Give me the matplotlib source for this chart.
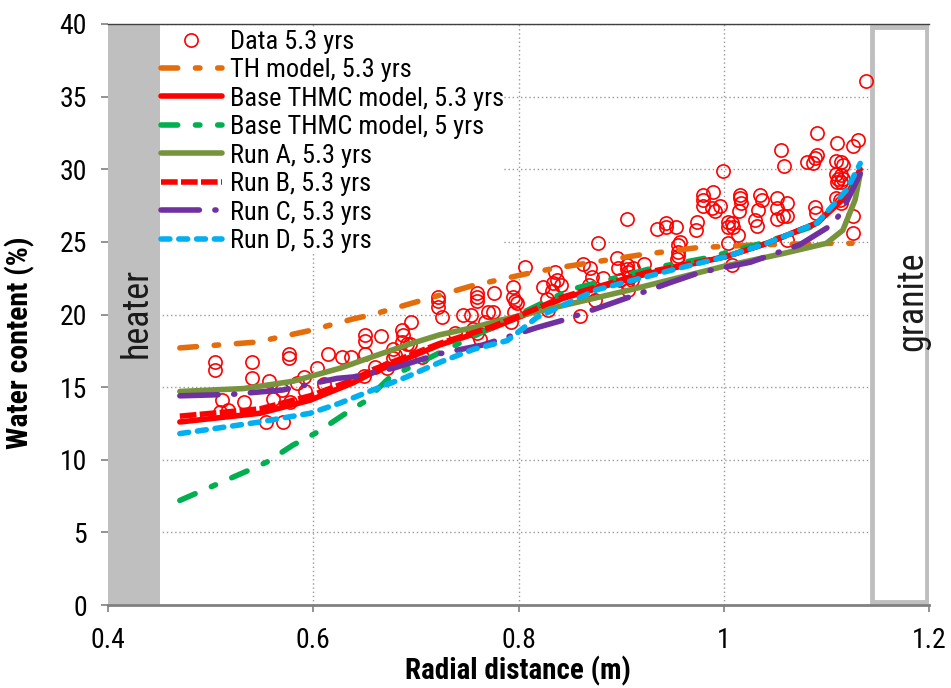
import matplotlib
matplotlib.use("Agg")
import matplotlib.pyplot as plt
from matplotlib import font_manager
from matplotlib.patches import Rectangle

names = {f.name for f in font_manager.fontManager.ttflist}
FAM = None
for cand in ['Roboto Condensed', 'Liberation Sans Narrow', 'PT Sans Narrow', 'Archivo Narrow',
             'Open Sans Condensed', 'Carlito', 'Liberation Sans']:
    if cand in names:
        FAM = cand
        break
plt.rcParams['font.family'] = [FAM, 'DejaVu Sans'] if FAM else ['DejaVu Sans']

# ---------------- data ----------------
data_x = [0.504, 0.504, 0.540, 0.540, 0.576, 0.576, 0.614, 0.628, 0.637, 0.604, 0.591, 0.584,
          0.557, 0.570, 0.592, 0.610, 0.511, 0.533, 0.561, 0.577, 0.517, 0.509, 0.554, 0.571,
          0.650, 0.650, 0.650, 0.666, 0.686, 0.687, 0.695, 0.686, 0.691, 0.694, 0.678, 0.680,
          0.678, 0.706, 0.660, 0.672, 0.649, 0.722, 0.722, 0.722, 0.725, 0.738, 0.746, 0.754,
          0.760, 0.760, 0.760, 0.770, 0.775, 0.776, 0.756, 0.760, 0.762, 0.767, 0.795, 0.795,
          0.797, 0.799, 0.796, 0.806, 0.793,
          0.836, 0.838, 0.834, 0.824, 0.841, 0.833, 0.828, 0.829, 0.863, 0.870, 0.872, 0.869,
          0.869, 0.875, 0.860, 0.877, 0.882, 0.896, 0.897, 0.906, 0.906, 0.906, 0.907, 0.909,
          0.911, 0.906, 0.907, 0.899, 0.912, 0.922, 0.935, 0.944, 0.944, 0.953, 0.974, 0.973,
          0.957, 0.955, 0.955, 0.955, 0.954, 0.980, 0.980, 0.990, 0.980, 0.989, 0.991, 0.996,
          1.004, 1.004,
          0.999, 1.016, 1.016, 1.017, 1.015, 1.008, 1.004, 1.009, 1.014, 1.008, 1.030, 1.032,
          1.033, 1.035, 1.037, 1.056, 1.059, 1.052, 1.062, 1.052, 1.058, 1.062, 1.052, 1.062,
          1.081, 1.087, 1.089, 1.091, 1.091, 1.089, 1.090, 1.110, 1.126, 1.131, 1.109, 1.114,
          1.116, 1.109, 1.114, 1.111, 1.116, 1.110, 1.114, 1.113, 1.109, 1.114, 1.126, 1.126,
          1.139]
data_y = [16.7, 16.2, 16.7, 15.6, 17.3, 17.0, 17.3, 17.1, 17.1, 16.3, 15.7, 15.3,
          15.4, 14.8, 14.7, 15.2, 14.1, 14.0, 14.2, 14.0, 13.4, 13.3, 12.6, 12.6,
          18.6, 18.2, 17.3, 18.5, 18.9, 18.6, 19.5, 18.1, 18.0, 18.0, 17.6, 17.2,
          17.0, 17.1, 16.4, 16.3, 15.8, 21.2, 20.9, 20.5, 19.8, 18.7, 20.0, 20.0,
          21.5, 21.2, 20.9, 20.2, 20.2, 21.5, 19.0, 18.7, 18.3, 19.5, 21.9, 21.2,
          20.9, 20.8, 20.2, 23.3, 19.5,
          22.9, 22.4, 22.2, 21.9, 22.0, 21.6, 21.1, 20.3, 23.5, 23.2, 22.6, 22.0,
          21.7, 21.0, 19.9, 24.9, 22.5, 23.9, 23.2, 26.6, 23.4, 23.1, 22.9, 22.6,
          22.4, 22.2, 21.7, 22.4, 23.2, 23.5, 25.9, 26.3, 26.0, 26.0, 26.4, 25.8,
          25.0, 24.8, 24.3, 24.0, 23.8, 28.2, 27.9, 28.4, 27.5, 27.3, 27.1, 27.5,
          26.4, 24.9,
          29.9, 28.2, 28.0, 27.7, 27.1, 26.3, 26.0, 26.0, 25.5, 23.4, 26.5, 26.1,
          27.2, 28.2, 27.9, 31.3, 30.2, 28.0, 27.7, 27.3, 26.8, 26.8, 26.6, 25.1,
          30.5, 30.4, 30.8, 31.0, 32.5, 27.4, 27.0, 31.8, 31.6, 32.0, 30.6, 30.5,
          30.3, 29.7, 29.6, 29.3, 29.3, 29.1, 29.1, 27.9, 28.0, 27.7, 26.8, 25.6,
          36.1]

th_x = [0.47, 0.545, 0.597, 0.639, 0.658, 0.707, 0.756, 0.814, 0.837, 0.918, 0.974, 1.035, 1.107, 1.125]
th_y = [17.7, 18.1, 18.9, 19.7, 20.0, 21.0, 22.0, 22.9, 23.2, 24.1, 24.6, 24.8, 24.9, 24.9]

base_x = [0.47, 0.548, 0.597, 0.639, 0.658, 0.723, 0.772, 0.814, 0.843, 0.925, 1.003, 1.042, 1.091, 1.12, 1.133]
base_y = [12.6, 13.2, 14.1, 15.3, 16.0, 17.9, 19.0, 20.2, 21.1, 22.8, 24.0, 24.9, 26.3, 28.2, 30.0]

base5_x = [0.47, 0.538, 0.555, 0.58, 0.604, 0.636, 0.65, 0.675, 0.73, 0.85, 0.931, 0.984, 1.042, 1.084, 1.12, 1.133]
base5_y = [7.2, 9.3, 9.85, 11.0, 11.9, 13.4, 14.0, 15.7, 17.6, 21.7, 23.2, 23.9, 25.0, 26.0, 28.1, 29.6]

runa_x = [0.47, 0.532, 0.58, 0.626, 0.658, 0.691, 0.723, 0.756, 0.782, 0.909, 0.999, 1.058, 1.1, 1.116, 1.128, 1.133]
runa_y = [14.7, 14.9, 15.4, 16.3, 17.1, 17.9, 18.6, 19.1, 19.6, 21.7, 23.3, 24.2, 24.9, 25.8, 27.9, 29.7]

runb_x = [0.47, 0.548, 0.597, 0.639, 0.658, 0.723, 0.772, 0.814, 0.843, 0.925, 1.003, 1.042, 1.091, 1.12, 1.133]
runb_y = [13.0, 13.5, 14.4, 15.5, 16.2, 18.0, 19.1, 20.3, 21.2, 22.9, 24.0, 24.9, 26.3, 28.2, 30.0]

runc_x = [0.47, 0.52, 0.57, 0.623, 0.639, 0.678, 0.723, 0.765, 0.818, 0.843, 0.892, 0.948, 0.977, 1.026, 1.074, 1.106, 1.116, 1.133]
runc_y = [14.4, 14.5, 14.8, 15.6, 15.7, 16.3, 17.3, 17.9, 19.1, 19.6, 20.8, 22.2, 22.9, 23.6, 24.8, 26.2, 27.2, 29.7]

rund_x = [0.47, 0.548, 0.597, 0.626, 0.658, 0.691, 0.723, 0.756, 0.789, 0.818, 0.876, 0.957, 1.003, 1.042, 1.091, 1.12, 1.133]
rund_y = [11.8, 12.6, 13.2, 13.9, 14.8, 15.7, 16.7, 17.6, 18.2, 19.8, 21.7, 23.2, 24.0, 24.9, 26.3, 28.6, 30.4]

xticks = [0.4, 0.6, 0.8, 1.0, 1.2]
xticklabels = ['0.4', '0.6', '0.8', '1', '1.2']
yticks = [0, 5, 10, 15, 20, 25, 30, 35, 40]

# ---------------- figure ----------------
fig = plt.figure(figsize=(9.51, 6.88), dpi=100)
ax = fig.add_axes([108/951, 83/688, 821/951, 581/688])
ax.set_xlim(0.4, 1.2)
ax.set_ylim(0, 40)

ax.grid(True, color='#999999', linestyle=(0, (1, 2)), linewidth=1.0, zorder=0)
ax.set_axisbelow(True)

ax.add_patch(Rectangle((0.4, 0), 0.0507, 40, facecolor='#BFBFBF', edgecolor='none', zorder=1))
ax.add_patch(Rectangle((1.1445, 0.2), 0.0535, 39.6, facecolor='white', edgecolor='#BFBFBF',
                       linewidth=3.5, zorder=1))
ax.text(0.428, 20.1, 'heater', rotation=90, ha='center', va='center', fontsize=26, color='#1a1a1a', zorder=2)
ax.text(1.1835, 20.9, 'granite', rotation=90, ha='center', va='center', fontsize=26, color='#1a1a1a', zorder=2)

lw = 4.0
ax.plot(data_x, data_y, linestyle='none', marker='o', markersize=9.5, markerfacecolor='none',
        markeredgecolor='#FF0000', markeredgewidth=1.2, label='Data 5.3 yrs', zorder=3)
ax.plot(th_x, th_y, color='#E46C0A', lw=lw, dashes=(3, 3.2, 0.8, 3.2), dash_capstyle='round',
        label='TH model, 5.3 yrs', zorder=4)
ax.plot(base_x, base_y, color='#FF0000', lw=lw, solid_capstyle='round',
        label='Base THMC model, 5.3 yrs', zorder=4)
ax.plot(base5_x, base5_y, color='#00B050', lw=lw, dashes=(3, 3.2, 0.8, 3.2), dash_capstyle='round',
        label='Base THMC model, 5 yrs', zorder=4)
ax.plot(runa_x, runa_y, color='#77933C', lw=lw, solid_capstyle='round',
        label='Run A, 5.3 yrs', zorder=4)
ax.plot(runb_x, runb_y, color='#FF0000', lw=lw, dashes=(3, 0.6), dash_capstyle='butt',
        label='Run B, 5.3 yrs', zorder=4)
ax.plot(runc_x, runc_y, color='#7030A0', lw=lw, dashes=(6.9, 2.8, 0.2, 2.8), dash_capstyle='round',
        label='Run C, 5.3 yrs', zorder=4)
ax.plot(rund_x, rund_y, color='#00B0F0', lw=lw, dashes=(1.6, 1.6), dash_capstyle='round',
        label='Run D, 5.3 yrs', zorder=4)

ax.set_xticks(xticks)
ax.set_xticklabels(xticklabels)
ax.set_yticks(yticks)
ax.tick_params(axis='both', direction='out', length=5, width=1.2, color='#808080',
               labelsize=20, labelcolor='black')
ax.tick_params(axis='x', pad=11)
ax.tick_params(axis='y', pad=10)

for s in ['left', 'right']:
    ax.spines[s].set_visible(False)
ax.spines['bottom'].set_color('#808080')
ax.spines['bottom'].set_linewidth(2)
ax.spines['top'].set_color('#404040')
ax.spines['top'].set_linewidth(1)

ax.set_xlabel('Radial distance (m)', fontsize=21, fontweight='bold')
ax.xaxis.set_label_coords((518 - 108) / 821, (605 - 656) / 581)
ax.set_ylabel('Water content (%)', fontsize=21.5, fontweight='bold')
ax.yaxis.set_label_coords((35 - 108) / 821, (605 - 343) / 581)

leg = ax.legend(loc='upper left', bbox_to_anchor=((160.5 - 108) / 821, 0.991), fontsize=19,
                frameon=True, fancybox=False, facecolor='white', edgecolor='none', framealpha=1,
                borderpad=0.02, borderaxespad=0, handlelength=2.3, handletextpad=0.3,
                labelspacing=0.17, numpoints=1)
leg.set_zorder(5)

fig.savefig('out.png', dpi=100)
